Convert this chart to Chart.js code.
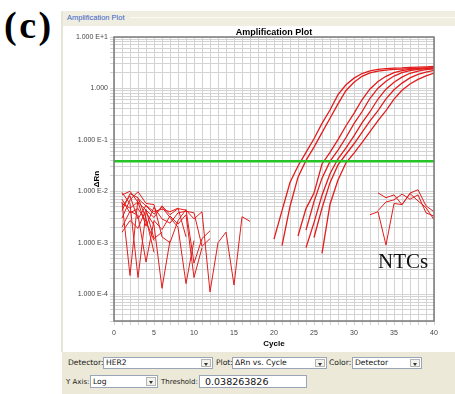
<!DOCTYPE html>
<html>
<head>
<meta charset="utf-8">
<script src="https://cdn.jsdelivr.net/npm/chart.js@4.4.1/dist/chart.umd.min.js"></script>
<style>
  html, body { margin: 0; padding: 0; background: #fff; }
  body { width: 455px; height: 394px; position: relative; overflow: hidden; font-family: "DejaVu Sans", sans-serif; }
  .abs { position: absolute; }
  #tag { left: 4px; top: 1px; font: bold 38px "Liberation Serif", serif; letter-spacing: 2.5px; line-height: 48px; color: #000; }
  #head { left: 62px; top: 11px; width: 393px; height: 15px; background: #efeee1; }
  #headLine { left: 130px; top: 17px; width: 325px; height: 1px; background: #fbfaf3; }
  #headText { left: 67px; top: 12px; font: 7.5px "Liberation Sans", sans-serif; color: #3a62c8; line-height: 11px; }
  #side { left: 61px; top: 11px; width: 2px; height: 341px; background: #e7e5d6; }
  #ctl { left: 62px; top: 352px; width: 393px; height: 42px; background: #ece9d8; }
  .lbl { font-size: 7.6px; color: #1a1a1a; line-height: 12px; white-space: nowrap; }
  .lbl.sm { font-size: 7px; }
  .box { background: #fff; border: 1px solid #9aa6b8; box-sizing: border-box; font-size: 7.6px; color: #111; padding-left: 2px; white-space: nowrap; }
  .btn { position: absolute; top: 1px; right: 1px; width: 10px; bottom: 1px; background: #f3f2ec; border: 1px solid #b4b4b4; box-sizing: border-box; }
  .btn::after { content: ""; position: absolute; left: 2px; top: 3px; border-left: 2.5px solid transparent; border-right: 2.5px solid transparent; border-top: 3px solid #333; }
  #chart { left: 62px; top: 22px; }
</style>
</head>
<body>
<div id="tag" class="abs">(c)</div>
<div id="head" class="abs"></div>
<div id="headLine" class="abs"></div>
<div id="headText" class="abs">Amplification Plot</div>
<div id="side" class="abs"></div>
<canvas id="chart" class="abs" width="393" height="330"></canvas>
<div id="ctl" class="abs"></div>

<div class="abs lbl" style="left:68px;top:357px;">Detector:</div>
<div class="abs box" style="left:103px;top:357px;width:110px;height:12px;line-height:10px;">HER2<span class="btn"></span></div>
<div class="abs lbl" style="left:216px;top:357px;">Plot:</div>
<div class="abs box" style="left:232px;top:357px;width:95px;height:12px;line-height:10px;">ΔRn vs. Cycle<span class="btn"></span></div>
<div class="abs lbl" style="left:329px;top:357px;">Color:</div>
<div class="abs box" style="left:352px;top:357px;width:70px;height:12px;line-height:10px;">Detector<span class="btn"></span></div>

<div class="abs lbl sm" style="left:66px;top:376px;">Y Axis:</div>
<div class="abs box" style="left:90px;top:375px;width:68px;height:13px;line-height:11px;">Log<span class="btn"></span></div>
<div class="abs lbl sm" style="left:161px;top:376px;">Threshold:</div>
<div id="thr" class="abs box" style="left:199px;top:375px;width:108px;height:13px;line-height:11px;font-size:9.5px;padding-left:5px;"></div>

<script>
// Cycle axis
const cycleMin = 0;
const cycleMax = 40;

// Log ΔRn axis: range and labelled decades
const yMin = 3e-5;
const yMax = 10;
const labelExponents = [-4, -3, -2, -1, 0, 1];
const labelTexts = ['1.000 E-4', '1.000 E-3', '1.000 E-2', '1.000 E-1', '1.000', '1.000 E+1'];
const gridMultipliers = [1, 2, 3, 4, 5, 6, 7, 8, 9];

const thresholdValue = 0.038263826;

// Baseline readings (starting at cycle 1) and amplification readings per well
const baseA1 = [0.0085, 0.0100, 0.0061, 0.0043, 0.0031, 0.0052, 0.0035, 0.0046, 0.0043, 0.0029, 0.0040, 0.00011, 0.0010, 0.0016, 0.00015, 0.0032, 0.0026];
const ampA1 = [0.00117, 0.0042, 0.0148, 0.0310, 0.0570, 0.105, 0.209, 0.380, 0.759, 1.175, 1.585, 1.95, 2.19, 2.34, 2.43, 2.48, 2.51, 2.57, 2.60, 2.63, 2.68];
const ampA1From = 20;

const baseA2 = [0.0062, 0.00023, 0.0072, 0.0052, 0.0036, 0.0049, 0.0031, 0.0020, 0.00016, 0.0011];
const ampA2 = [0.00088, 0.0051, 0.0188, 0.0398, 0.0724, 0.138, 0.263, 0.501, 0.912, 1.32, 1.72, 2.00, 2.16, 2.27, 2.34, 2.38, 2.42, 2.44, 2.47, 2.49];
const ampA2From = 21;

const baseB1 = [0.0030, 0.0068, 0.0098, 0.0058, 0.0055, 0.0013, 0.0010, 0.0027, 0.0044, 0.00040, 0.0012, 0.0017];
const ampB1 = [0.00135, 0.0046, 0.0092, 0.0339, 0.0571, 0.1007, 0.188, 0.328, 0.601, 0.975, 1.36, 1.72, 2.02, 2.22, 2.35, 2.43, 2.48, 2.51];
const ampB1From = 23;

const baseB2 = [0.0095, 0.0057, 0.00021, 0.0039, 0.0022, 0.00013, 0.0011];
const ampB2 = [0.00175, 0.0063, 0.0180, 0.0380, 0.0634, 0.111, 0.206, 0.352, 0.644, 1.01, 1.385, 1.74, 2.03, 2.22, 2.35, 2.43, 2.48];
const ampB2From = 24;

const baseB3 = [0.0020, 0.0041, 0.0034, 0.00042, 0.0027, 0.0018, 0.0033, 0.0023, 0.0035, 0.00021, 0.0008];
const ampB3 = [0.00080, 0.00245, 0.0084, 0.0219, 0.0428, 0.0700, 0.119, 0.213, 0.352, 0.622, 0.966, 1.32, 1.66, 1.97, 2.17, 2.31, 2.39];
const ampB3From = 24;

const baseC1 = [0.0070, 0.0038, 0.0046, 0.0026, 0.0011];
const ampC1 = [0.00126, 0.0047, 0.0147, 0.0326, 0.0525, 0.0839, 0.139, 0.233, 0.370, 0.627, 0.940, 1.27, 1.60, 1.87, 2.08, 2.24];
const ampC1From = 25;

const baseC2 = [0.0050, 0.0081, 0.0029, 0.0053, 0.0040, 0.0045, 0.0040, 0.0047, 0.0013];
const ampC2 = [0.00062, 0.0056, 0.0166, 0.0357, 0.0553, 0.0879, 0.144, 0.237, 0.371, 0.618, 0.923, 1.22, 1.50, 1.76, 1.98];
const ampC2From = 26;

// No-template controls
const baseN1 = [0.0016, 0.0027, 0.0019, 0.0044, 0.0012, 0.0016];
const lateN1 = [0.0035, 0.0040, 0.0009, 0.0058, 0.0055, 0.0092, 0.0107, 0.0052, 0.0040];
const lateN1From = 32;

const baseN2 = [0.0042, 0.0090, 0.0075, 0.0030, 0.00065];
const lateN2 = [0.0093, 0.0075, 0.0085, 0.0055, 0.0090, 0.0065, 0.0048, 0.0028];
const lateN2From = 33;

const baseN3 = [0.0058, 0.0047, 0.0062, 0.0021, 0.0049, 0.0029, 0.0024, 0.0038, 0.0041, 0.0038, 0.00085, 0.0012];
const lateN3 = [0.0042, 0.0062, 0.0068, 0.0088, 0.0070, 0.0085, 0.0038, 0.0033];
const lateN3From = 33;

document.getElementById('thr').textContent = String(thresholdValue);

const traceColor = 'rgb(226,28,28)';

function segment(values, fromCycle, width) {
  return {
    data: values.map((v, i) => ({ x: fromCycle + i, y: v })),
    borderColor: traceColor,
    borderWidth: width,
    pointRadius: 0,
    tension: 0,
    fill: false
  };
}

const datasets = [
  {
    data: [{ x: cycleMin, y: thresholdValue }, { x: cycleMax, y: thresholdValue }],
    borderColor: 'rgb(38,196,38)',
    borderWidth: 2.5,
    pointRadius: 0,
    fill: false
  },
  segment(ampA1, ampA1From, 1.3), segment(ampA2, ampA2From, 1.3),
  segment(ampB1, ampB1From, 1.3), segment(ampB2, ampB2From, 1.3), segment(ampB3, ampB3From, 1.3),
  segment(ampC1, ampC1From, 1.3), segment(ampC2, ampC2From, 1.3),
  segment(lateN1, lateN1From, 1), segment(lateN2, lateN2From, 1), segment(lateN3, lateN3From, 1),
  segment(baseA1, 1, 1), segment(baseA2, 1, 1), segment(baseB1, 1, 1), segment(baseB2, 1, 1),
  segment(baseB3, 1, 1), segment(baseC1, 1, 1), segment(baseC2, 1, 1),
  segment(baseN1, 1, 1), segment(baseN2, 1, 1), segment(baseN3, 1, 1)
];

// Log grid ticks at 1..9 of every decade inside the axis range
const yTickValues = [];
for (let e = -5; e <= 1; e++) {
  for (const m of gridMultipliers) {
    const v = Number((m * Math.pow(10, e)).toPrecision(6));
    if (v >= yMin - 1e-12 && v <= yMax + 1e-9) yTickValues.push(v);
  }
}

const frameAndNote = {
  id: 'frameAndNote',
  afterDraw(chart) {
    const { ctx, chartArea: a, scales } = chart;
    ctx.save();
    ctx.strokeStyle = '#7a7a7a';
    ctx.lineWidth = 1.5;
    ctx.strokeRect(a.left, a.top, a.right - a.left, a.bottom - a.top);
    ctx.fillStyle = '#111';
    ctx.font = '21px "Liberation Serif", serif';
    ctx.textBaseline = 'alphabetic';
    ctx.textAlign = 'left';
    ctx.fillText('NTCs', scales.x.getPixelForValue(33), scales.y.getPixelForValue(3.2e-4));
    ctx.restore();
  }
};

Chart.defaults.font.family = '"Liberation Sans", Arial, sans-serif';

new Chart(document.getElementById('chart'), {
  type: 'line',
  data: { datasets },
  plugins: [frameAndNote],
  options: {
    responsive: false,
    animation: false,
    devicePixelRatio: 1,
    layout: { padding: { left: 0, right: 21, top: 0, bottom: 0 } },
    plugins: {
      legend: { display: false },
      tooltip: { enabled: false },
      title: {
        display: true,
        text: 'Amplification Plot',
        fullSize: false,
        color: '#000',
        font: { size: 9, weight: 'bold', lineHeight: 1 },
        padding: { top: 6, bottom: 0 }
      }
    },
    scales: {
      x: {
        type: 'linear',
        min: cycleMin,
        max: cycleMax,
        afterFit(s) { s.height = 31; },
        border: { display: false },
        grid: { color: '#d3d3d3', lineWidth: 1, tickLength: 4 },
        ticks: {
          stepSize: 1,
          autoSkip: false,
          maxRotation: 0,
          padding: 4,
          color: '#444',
          font: { size: 7 },
          callback: (v) => (v % 5 === 0 ? String(v) : '')
        },
        title: {
          display: true,
          text: 'Cycle',
          color: '#000',
          font: { size: 8, weight: 'bold' },
          padding: { top: 0, bottom: 3 }
        }
      },
      y: {
        type: 'logarithmic',
        min: yMin,
        max: yMax,
        afterFit(s) { s.width = 52; },
        afterBuildTicks(s) { s.ticks = yTickValues.map(v => ({ value: v })); },
        border: { display: false },
        grid: { color: '#d3d3d3', lineWidth: 1, tickLength: 4 },
        ticks: {
          autoSkip: false,
          padding: 2,
          color: '#444',
          font: { size: 7 },
          callback: (v) => {
            const e = Math.log10(v);
            const r = Math.round(e);
            if (Math.abs(e - r) > 1e-6) return '';
            const i = labelExponents.indexOf(r);
            return i >= 0 ? labelTexts[i] : '';
          }
        },
        title: {
          display: true,
          text: 'ΔRn',
          color: '#000',
          font: { size: 8, weight: 'bold' },
          padding: { top: 30, bottom: 0 }
        }
      }
    }
  }
});
</script>
</body>
</html>
